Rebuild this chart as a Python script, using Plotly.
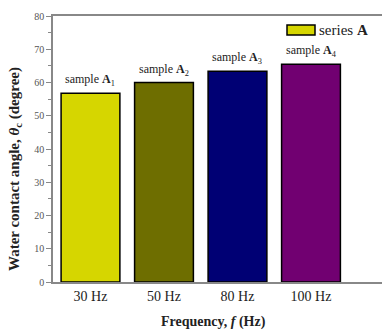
import plotly.graph_objects as go

# Data
categories = ["30 Hz", "50 Hz", "80 Hz", "100 Hz"]
angles = [56.8, 60.0, 63.4, 65.5]
sample_labels = ["sample <b>A</b><sub>1</sub>", "sample <b>A</b><sub>2</sub>",
                 "sample <b>A</b><sub>3</sub>", "sample <b>A</b><sub>4</sub>"]
y_ticks = [0, 10, 20, 30, 40, 50, 60, 70, 80]

fills = ["#d6d600", "#6e6e00", "#000074", "#710071"]

serif = "Liberation Serif, Times New Roman, serif"

fig = go.Figure()
fig.add_trace(go.Bar(
    x=list(range(len(categories))),
    y=angles,
    width=0.8,
    marker=dict(color=fills, line=dict(color="black", width=1.5)),
    showlegend=False,
    hoverinfo="skip",
))

for i, (v, lab) in enumerate(zip(angles, sample_labels)):
    fig.add_annotation(x=i, y=v, text=lab, showarrow=False, yanchor="bottom",
                       yshift=3, font=dict(family=serif, size=12, color="#222"))

# Legend entry
fig.add_shape(type="rect", xref="paper", yref="paper",
              x0=(287 - 53) / 329, x1=(315 - 53) / 329,
              y0=(282 - 35) / 266, y1=(282 - 25) / 266,
              fillcolor=fills[0], line=dict(color="black", width=1.5))
fig.add_annotation(xref="paper", yref="paper", x=(317 - 53) / 329, y=(282 - 30) / 266,
                   text="series <b>A</b>", showarrow=False, xanchor="left", yanchor="middle",
                   font=dict(family=serif, size=15, color="#222"))

# Axis titles
fig.add_annotation(xref="paper", yref="paper", x=-38 / 329, y=(282 - 169) / 266,
                   text="<b>Water contact angle, <i>θ</i><sub>c</sub> (degree)</b>",
                   textangle=-90, showarrow=False, xanchor="center", yanchor="middle",
                   font=dict(family=serif, size=15, color="#222"))
fig.add_annotation(xref="paper", yref="paper", x=(213 - 53) / 329, y=-(322 - 282) / 266,
                   text="<b>Frequency, <i>f</i> (Hz)</b>", showarrow=False,
                   xanchor="center", yanchor="middle",
                   font=dict(family=serif, size=14, color="#222"))

fig.update_layout(
    width=382, height=333,
    margin=dict(l=53, r=0, t=16, b=51),
    paper_bgcolor="white", plot_bgcolor="white",
    font=dict(family=serif),
    bargap=0.2,
)
fig.update_xaxes(
    range=[-0.51, 3.966],
    tickmode="array", tickvals=list(range(len(categories))), ticktext=categories,
    ticks="", showgrid=False, zeroline=False,
    showline=True, linecolor="#888", linewidth=1.5, mirror=True,
    tickfont=dict(family=serif, size=14, color="#222"),
)
fig.update_yaxes(
    range=[0, 80], tickvals=y_ticks,
    ticks="outside", ticklen=5, tickwidth=1, tickcolor="#888",
    minor=dict(dtick=5, ticks="outside", ticklen=3, tickcolor="#888", tickwidth=1),
    showgrid=False, zeroline=False,
    showline=True, linecolor="#888", linewidth=1.5,
    tickfont=dict(family=serif, size=10, color="#555"),
)

fig.write_html("out.html")
